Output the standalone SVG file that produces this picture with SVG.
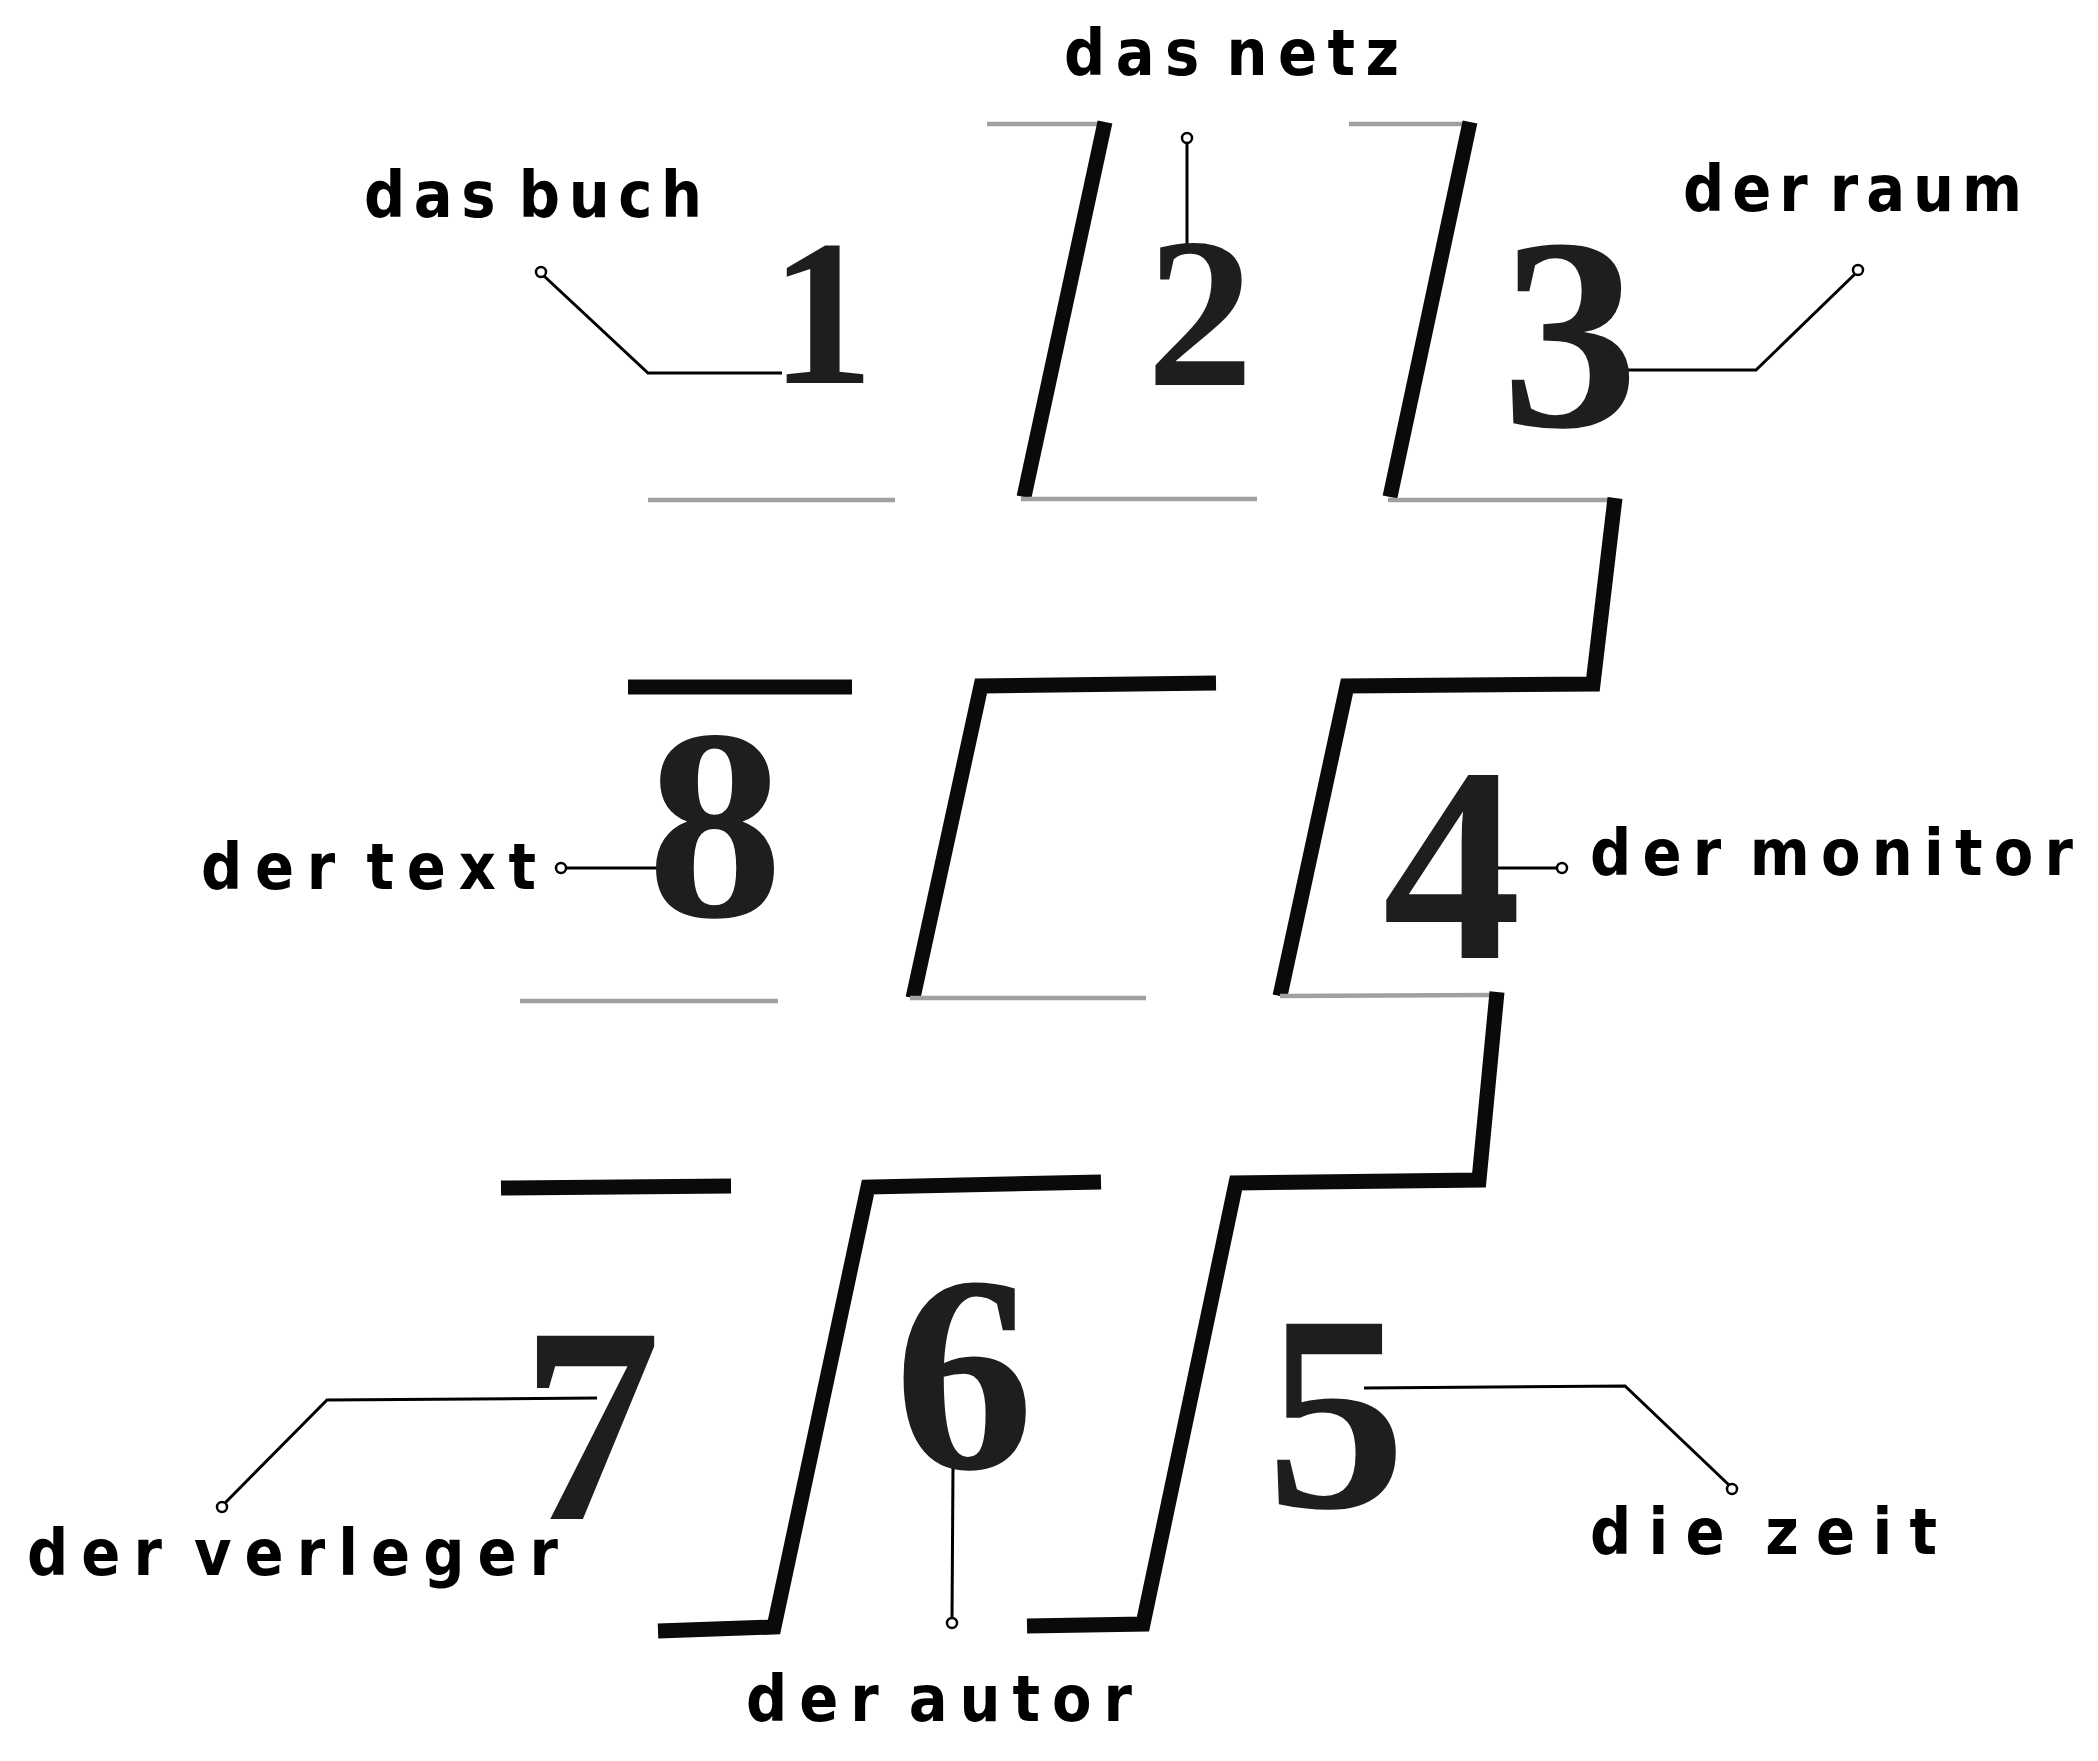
<svg xmlns="http://www.w3.org/2000/svg" width="2098" height="1761" viewBox="0 0 2098 1761">
<style>
.bg{fill:#ffffff}
.blk{fill:none;stroke:#0a0a0a;stroke-width:15;stroke-linejoin:miter;stroke-linecap:butt}
.gry{fill:none;stroke:#a0a0a0;stroke-width:4.5;stroke-linecap:butt}
.num{font-family:"Liberation Serif","Times New Roman",serif;font-weight:bold;fill:#1e1e1e;text-anchor:middle}
.lbl{font-family:"Liberation Sans Narrow","DejaVu Sans Condensed","DejaVu Sans",sans-serif;font-stretch:condensed;font-weight:bold;font-size:64px;fill:#000;word-spacing:-14px}
.ld{fill:none;stroke:#000;stroke-width:3;stroke-linejoin:miter}
.dot{fill:#fff;stroke:#000;stroke-width:2.5}
</style>
<rect class="bg" x="0" y="0" width="2098" height="1761"/>

<g id="grid">
  <line class="gry" x1="987" y1="124" x2="1103" y2="124"/>
  <path class="blk" d="M1105,122 L1024,497"/>
  <line class="gry" x1="1349" y1="124" x2="1468" y2="124"/>
  <path class="blk" d="M1470,122 L1390,497"/>

  <line class="gry" x1="648" y1="500" x2="895" y2="500"/>
  <line class="gry" x1="1021" y1="499" x2="1257" y2="499"/>
  <line class="gry" x1="1388" y1="500" x2="1613" y2="500"/>
  <path class="blk" d="M1615,498 L1593,684 L1347,686 L1280,996"/>

  <path class="blk" d="M628,687 L852,687"/>
  <path class="blk" d="M1216,683 L981,686 L913,998"/>

  <line class="gry" x1="520" y1="1001" x2="778" y2="1001"/>
  <line class="gry" x1="910" y1="998" x2="1146" y2="998"/>
  <line class="gry" x1="1280" y1="996" x2="1492" y2="995"/>
  <path class="blk" d="M1497,992 L1479,1180 L1236,1183 L1143,1624 L1027,1626"/>

  <path class="blk" d="M501,1188 L731,1186"/>
  <path class="blk" d="M1101,1182 L868,1187 L774,1627 L658,1631"/>
</g>

<g id="connectors">
  <path class="ld" d="M544,276 L648,373 L782,373"/>
  <path class="ld" d="M1187,143 L1187,244"/>
  <path class="ld" d="M1855,274 L1756,370 L1628,370"/>
  <path class="ld" d="M566,868 L658,868"/>
  <path class="ld" d="M1498,868 L1557,868"/>
  <path class="ld" d="M225,1503 L327,1400 L597,1398"/>
  <path class="ld" d="M953,1467 L952,1618"/>
  <path class="ld" d="M1364,1388 L1625,1386 L1729,1485"/>
</g>

<g id="node-1">
  <text class="num" x="822" y="383" font-size="208">1</text>
  <text class="lbl" x="364" y="217" textLength="338" lengthAdjust="spacing">das buch</text>
  <circle class="dot" cx="541" cy="272" r="5"/>
</g>
<g id="node-2">
  <text class="num" x="1200" y="385" font-size="214">2</text>
  <text class="lbl" x="1064" y="75" textLength="335" lengthAdjust="spacing">das netz</text>
  <circle class="dot" cx="1187" cy="138" r="5"/>
</g>
<g id="node-3">
  <text class="num" x="1570" y="426" font-size="274">3</text>
  <text class="lbl" x="1683" y="211" textLength="339" lengthAdjust="spacing">der raum</text>
  <circle class="dot" cx="1858" cy="270" r="5"/>
</g>
<g id="node-4">
  <text class="num" x="1452" y="958" font-size="278">4</text>
  <text class="lbl" x="1590" y="875" textLength="483" lengthAdjust="spacing">der monitor</text>
  <circle class="dot" cx="1562" cy="868" r="5"/>
</g>
<g id="node-5">
  <text class="num" x="1336" y="1507" font-size="280">5</text>
  <text class="lbl" x="1590" y="1554" textLength="347" lengthAdjust="spacing">die zeit</text>
  <circle class="dot" cx="1732" cy="1489" r="5"/>
</g>
<g id="node-6">
  <text class="num" x="964" y="1468" font-size="280">6</text>
  <text class="lbl" x="746" y="1721" textLength="386" lengthAdjust="spacing">der autor</text>
  <circle class="dot" cx="952" cy="1623" r="5"/>
</g>
<g id="node-7">
  <text class="num" x="591" y="1519" font-size="280">7</text>
  <text class="lbl" x="27" y="1575" textLength="531" lengthAdjust="spacing">der verleger</text>
  <circle class="dot" cx="222" cy="1507" r="5"/>
</g>
<g id="node-8">
  <text class="num" x="715" y="916" font-size="272">8</text>
  <text class="lbl" x="201" y="889" textLength="335" lengthAdjust="spacing">der text</text>
  <circle class="dot" cx="561" cy="868" r="5"/>
</g>
</svg>
